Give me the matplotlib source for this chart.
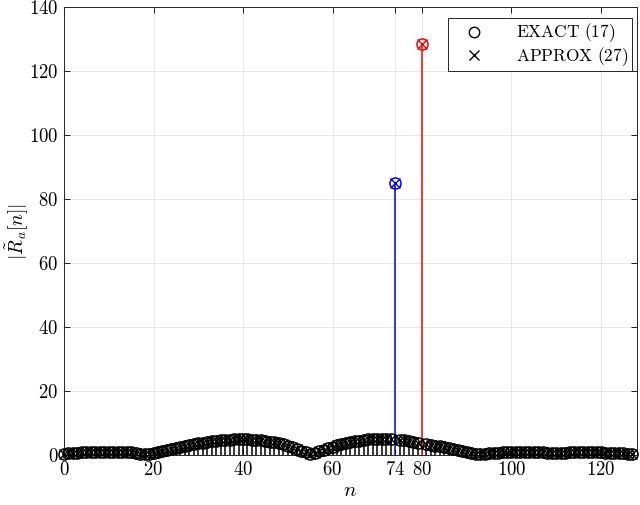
import numpy as np
import matplotlib
matplotlib.use("Agg")
import matplotlib.pyplot as plt
from matplotlib.lines import Line2D

plt.rcParams['mathtext.fontset'] = 'cm'
plt.rcParams['font.family'] = 'serif'
plt.rcParams['font.serif'] = ['DejaVu Serif']

n_vals = list(range(128))
mag_vals = [
    0.3, 0.5, 0.6, 0.7, 0.8, 0.9, 0.95, 1.0, 1.0, 1.05,
    1.05, 1.0, 1.0, 0.95, 0.9, 0.8, 0.6, 0.4, 0.3, 0.45,
    0.7, 1.0, 1.3, 1.6, 1.9, 2.2, 2.5, 2.8, 3.1, 3.4,
    3.7, 3.9, 4.1, 4.3, 4.5, 4.6, 4.7, 4.8, 4.85, 4.9,
    4.9, 4.85, 4.8, 4.7, 4.55, 4.4, 4.2, 3.95, 3.65, 3.3,
    2.9, 2.45, 1.95, 1.4, 0.8, 0.2, 0.5, 1.1, 1.6, 2.1,
    2.6, 3.0, 3.4, 3.7, 4.0, 4.3, 4.5, 4.7, 4.85, 4.95,
    5.0, 5.05, 5.05, 5.0, 85.0, 4.8, 4.6, 4.4, 4.1, 3.8,
    128.5, 3.4, 3.2, 2.95, 2.7, 2.4, 2.1, 1.8, 1.5, 1.2,
    0.9, 0.6, 0.35, 0.2, 0.3, 0.5, 0.65, 0.75, 0.85, 0.9,
    0.95, 1.0, 1.0, 1.0, 0.95, 0.9, 0.85, 0.8, 0.75, 0.7,
    0.7, 0.7, 0.75, 0.8, 0.85, 0.9, 0.9, 0.9, 0.85, 0.8,
    0.8, 0.75, 0.7, 0.65, 0.6, 0.5, 0.4, 0.3,
]
peak_blue = 74
peak_red = 80
xtick_vals = [0, 20, 40, 60, 74, 80, 100, 120]
ytick_vals = [0, 20, 40, 60, 80, 100, 120, 140]

n = np.array(n_vals)
mag = np.array(mag_vals)
colors = ['k'] * len(n)
colors[peak_blue] = 'b'
colors[peak_red] = 'r'

fig = plt.figure(figsize=(6.4, 5.05), dpi=100)
ax = fig.add_axes([0.1, 0.099, 0.895, 0.887])

for xi, yi, c in zip(n, mag, colors):
    ax.plot([xi, xi], [0, yi], color=c, lw=1.1, zorder=2)
for xi, yi, c in zip(n, mag, colors):
    ax.plot(xi, yi, marker='o', ms=8, mfc='none', mec=c, mew=1.1,
            linestyle='none', clip_on=False, zorder=3)
    ax.plot(xi, yi, marker='x', ms=6.5, mec=c, mew=1.0,
            linestyle='none', clip_on=False, zorder=3)

ax.set_xlim(0, 128)
ax.set_ylim(0, 140)
ax.set_xticks(xtick_vals)
ax.set_xticklabels([f'${t}$' for t in xtick_vals], fontsize=13.5)
ax.set_yticks(ytick_vals)
ax.set_yticklabels([f'${t}$' for t in ytick_vals], fontsize=13.5)
ax.tick_params(direction='in', length=4, width=0.6, top=True, right=True, pad=4)
ax.grid(True, color='#e6e6e6', lw=0.7)
ax.set_axisbelow(True)
for s in ax.spines.values():
    s.set_linewidth(0.7)
    s.set_color('#262626')

ax.set_xlabel(r'$n$', fontsize=15, labelpad=2)
ax.set_ylabel(r'$|\tilde{R}_a[n]|$', fontsize=14)
ax.yaxis.set_label_coords(-0.058, 0.5)

handles = [
    Line2D([], [], marker='o', mfc='none', mec='k', ms=7.5, linestyle='none'),
    Line2D([], [], marker='x', mec='k', ms=6.5, linestyle='none'),
]
leg = ax.legend(handles, [r'$\mathrm{EXACT\ (17)}$', r'$\mathrm{APPROX\ (27)}$'],
                loc='upper right', fontsize=12.5, fancybox=False, framealpha=1,
                edgecolor='#262626', handletextpad=1.1, handlelength=2.6,
                borderpad=0.2, labelspacing=0.02, borderaxespad=0.0,
                bbox_to_anchor=(0.991, 0.975))
leg.get_frame().set_linewidth(0.7)

fig.savefig('out.png', dpi=100)
